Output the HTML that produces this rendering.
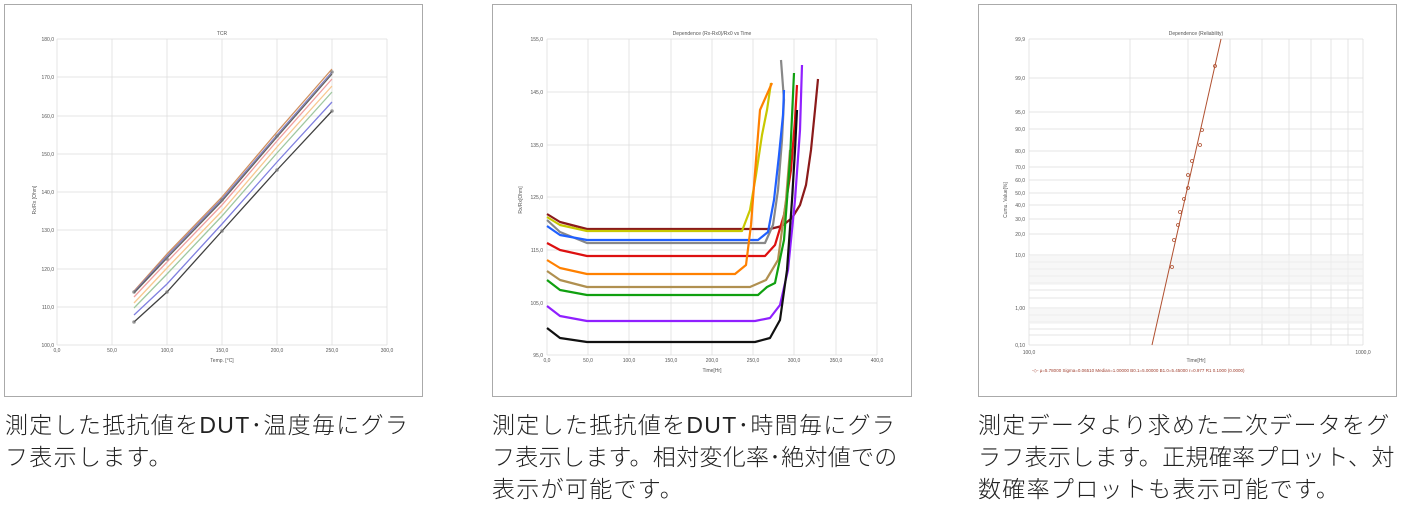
<!DOCTYPE html>
<html><head><meta charset="utf-8">
<style>
body{margin:0;width:1402px;height:515px;background:#fff;position:relative;overflow:hidden;font-family:"Liberation Sans","Noto Sans CJK JP",sans-serif}
.box{position:absolute;top:4px;height:393px;border:1px solid #aaa;box-sizing:border-box}
.cap{position:absolute;top:409px;font-size:23px;letter-spacing:1.3px;line-height:32px;color:#222;white-space:nowrap;font-family:"Liberation Sans","Noto Sans CJK JP",sans-serif;font-weight:300}
svg{position:absolute;left:0;top:0}
svg text{font-family:"Liberation Sans",sans-serif;font-size:5px;fill:#555}
</style></head><body>
<div class="box" style="left:4px;width:419px"></div>
<div class="box" style="left:492px;width:420px"></div>
<div class="box" style="left:978px;width:419px"></div>

<svg width="1402" height="400" viewBox="0 0 1402 400">
<!-- Chart 1 -->
<g stroke="#dedede" stroke-width="0.8" fill="none">
<path d="M57 39V345M112 39V345M167 39V345M222 39V345M277 39V345M332 39V345M387 39V345"/>
<path d="M57 39H387M57 77H387M57 116H387M57 154H387M57 192H387M57 230H387M57 269H387M57 307H387M57 345H387"/>
</g>
<g text-anchor="end">
<text x="54" y="41">180,0</text><text x="54" y="79">170,0</text><text x="54" y="118">160,0</text><text x="54" y="156">150,0</text><text x="54" y="194">140,0</text><text x="54" y="232">130,0</text><text x="54" y="271">120,0</text><text x="54" y="309">110,0</text><text x="54" y="347">100,0</text>
</g>
<g text-anchor="middle">
<text x="57" y="352">0,0</text><text x="112" y="352">50,0</text><text x="167" y="352">100,0</text><text x="222" y="352">150,0</text><text x="277" y="352">200,0</text><text x="332" y="352">250,0</text><text x="387" y="352">300,0</text>
<text x="222" y="362">Temp. [°C]</text><text x="222" y="35">TCR</text>
</g>
<text x="36" y="200" transform="rotate(-90 36 200)" text-anchor="middle">Rx/Rx [Ohm]</text>
<g fill="none" stroke-width="1.3">
<polyline stroke="#d09060" points="134,291 167,254 222,197 277,132 332,69"/>
<polyline stroke="#8080c0" points="134,292 167,256 222,199 277,135 332,72"/>
<polyline stroke="#606060" points="134,293 167,258 222,201 277,137 332,74"/>
<polyline stroke="#f0a0a0" points="134,297 167,262 222,205 277,141 332,79"/>
<polyline stroke="#f8c890" points="134,303 167,268 222,211 277,147 332,86"/>
<polyline stroke="#a0c8a0" points="134,308 167,274 222,216 277,153 332,92"/>
<polyline stroke="#8080e0" points="134,315 167,284 222,224 277,162 332,102"/>
<polyline stroke="#404040" points="134,322 167,292 222,231 277,170 332,111"/>
</g>
<g fill="#777" opacity="0.7">
<circle cx="134" cy="292" r="1.8"/><circle cx="167" cy="259" r="1.8"/><circle cx="222" cy="200" r="1.8"/><circle cx="277" cy="136" r="1.8"/><circle cx="332" cy="72" r="1.8"/>
<circle cx="134" cy="322" r="1.8"/><circle cx="167" cy="292" r="1.8"/><circle cx="222" cy="231" r="1.8"/><circle cx="277" cy="170" r="1.8"/><circle cx="332" cy="111" r="1.8"/>
</g>

<!-- Chart 2 -->
<g stroke="#dedede" stroke-width="0.8" fill="none">
<path d="M547 39V355M588 39V355M629 39V355M671 39V355M712 39V355M753 39V355M794 39V355M836 39V355M877 39V355"/>
<path d="M547 39H877M547 92H877M547 145H877M547 197H877M547 250H877M547 303H877M547 355H877"/>
</g>
<g text-anchor="end">
<text x="543" y="41">155,0</text><text x="543" y="94">145,0</text><text x="543" y="147">135,0</text><text x="543" y="199">125,0</text><text x="543" y="252">115,0</text><text x="543" y="305">105,0</text><text x="543" y="357">95,0</text>
</g>
<g text-anchor="middle">
<text x="547" y="362">0,0</text><text x="588" y="362">50,0</text><text x="629" y="362">100,0</text><text x="671" y="362">150,0</text><text x="712" y="362">200,0</text><text x="753" y="362">250,0</text><text x="794" y="362">300,0</text><text x="836" y="362">350,0</text><text x="877" y="362">400,0</text>
<text x="712" y="372">Time[Hr]</text><text x="712" y="35">Dependence (Rx-Rx0)/Rx0 vs Time</text>
</g>
<text x="522" y="200" transform="rotate(-90 522 200)" text-anchor="middle">Rx/Rx[Ohm]</text>
<g fill="none" stroke-width="2.2" stroke-linejoin="round">
<polyline stroke="#8b1a1a" points="547,214 560,222 587,229 770,229 782,226 792,218 800,205 806,185 811,150 815,110 818,79"/>
<polyline stroke="#c8c800" points="547,217 560,225 587,231 742,231 750,210 756,175 762,135 767,110 771,83"/>
<polyline stroke="#888888" points="547,220 560,232 587,243 765,243 773,225 778,190 782,140 784,100 781,60"/>
<polyline stroke="#2060ff" points="547,226 560,235 587,240 758,240 768,232 774,200 779,155 783,115 784,90"/>
<polyline stroke="#dd1010" points="547,243 560,250 587,256 765,256 775,245 784,215 791,170 795,120 797,85"/>
<polyline stroke="#ff8000" points="547,260 560,268 587,274 735,274 746,265 751,225 756,160 760,110 772,83"/>
<polyline stroke="#b09050" points="547,271 560,280 587,287 750,287 766,280 778,260 786,200 790,150"/>
<polyline stroke="#10a010" points="547,280 560,290 587,295 758,295 767,287 775,283 784,240 790,160 794,73"/>
<polyline stroke="#9020ff" points="547,306 560,316 587,321 755,321 770,318 780,305 788,270 795,200 800,130 802,65"/>
<polyline stroke="#111111" points="547,328 560,338 587,342 755,342 770,338 780,320 787,270 792,200 795,150 797,110"/>
</g>

<!-- Chart 3 -->
<g stroke="#dedede" stroke-width="0.8" fill="none">
<path d="M1029 39V345M1130 39V345M1188 39V345M1230 39V345M1262 39V345M1289 39V345M1311 39V345M1331 39V345M1348 39V345M1363 39V345"/>
<path d="M1029 39H1363M1029 78H1363M1029 112H1363M1029 129H1363M1029 151H1363M1029 167H1363M1029 180H1363M1029 193H1363M1029 205H1363M1029 219H1363M1029 234H1363M1029 255H1363M1029 262H1363M1029 269H1363M1029 276H1363M1029 283H1363M1029 290H1363M1029 298H1363M1029 308H1363M1029 315H1363M1029 322H1363M1029 329H1363M1029 335H1363M1029 345H1363"/>
</g>
<rect x="1029" y="255" width="334" height="30" fill="#f2f2f2" opacity="0.6"/>
<rect x="1029" y="308" width="334" height="16" fill="#f2f2f2" opacity="0.6"/>
<g text-anchor="end">
<text x="1025" y="41">99,9</text><text x="1025" y="80">99,0</text><text x="1025" y="114">95,0</text><text x="1025" y="131">90,0</text><text x="1025" y="153">80,0</text><text x="1025" y="169">70,0</text><text x="1025" y="182">60,0</text><text x="1025" y="195">50,0</text><text x="1025" y="207">40,0</text><text x="1025" y="221">30,0</text><text x="1025" y="236">20,0</text><text x="1025" y="257">10,0</text><text x="1025" y="310">1,00</text><text x="1025" y="347">0,10</text>
</g>
<g text-anchor="middle">
<text x="1029" y="354">100,0</text><text x="1363" y="354">1000,0</text><text x="1196" y="362">Time[Hr]</text><text x="1196" y="35">Dependence (Reliability)</text>
</g>
<text x="1007" y="200" transform="rotate(-90 1007 200)" text-anchor="middle">Cumu. Value[%]</text>
<line x1="1152" y1="345" x2="1221" y2="39" stroke="#b05030" stroke-width="1"/>
<g fill="none" stroke="#b05030" stroke-width="0.8">
<circle cx="1172" cy="267" r="1.5"/><circle cx="1174" cy="240" r="1.5"/><circle cx="1178" cy="225" r="1.5"/><circle cx="1180" cy="212" r="1.5"/><circle cx="1184" cy="199" r="1.5"/><circle cx="1188" cy="188" r="1.5"/><circle cx="1188" cy="175" r="1.5"/><circle cx="1192" cy="161" r="1.5"/><circle cx="1200" cy="145" r="1.5"/><circle cx="1202" cy="130" r="1.5"/><circle cx="1215" cy="66" r="1.5"/>
</g>
<text x="1032" y="372" style="fill:#a04030;font-size:4.5px">-◇- μ=5.78000 Sigma=0.06510 Median=1.00000 B0.1=5.00000 B1.0=5.45000 r=0.977 R1 0.1000 (0.0000)</text>
</svg>

<div class="cap" style="left:5px">測定した抵抗値をDUT･温度毎にグラ<br>フ表示します。</div>
<div class="cap" style="left:492px">測定した抵抗値をDUT･時間毎にグラ<br><span style="letter-spacing:0.3px">フ表示します。相対変化率･絶対値での</span><br>表示が可能です。</div>
<div class="cap" style="left:978px">測定データより求めた二次データをグ<br><span style="letter-spacing:0.3px">ラフ表示します。正規確率プロット、対</span><br>数確率プロットも表示可能です。</div>
</body></html>
